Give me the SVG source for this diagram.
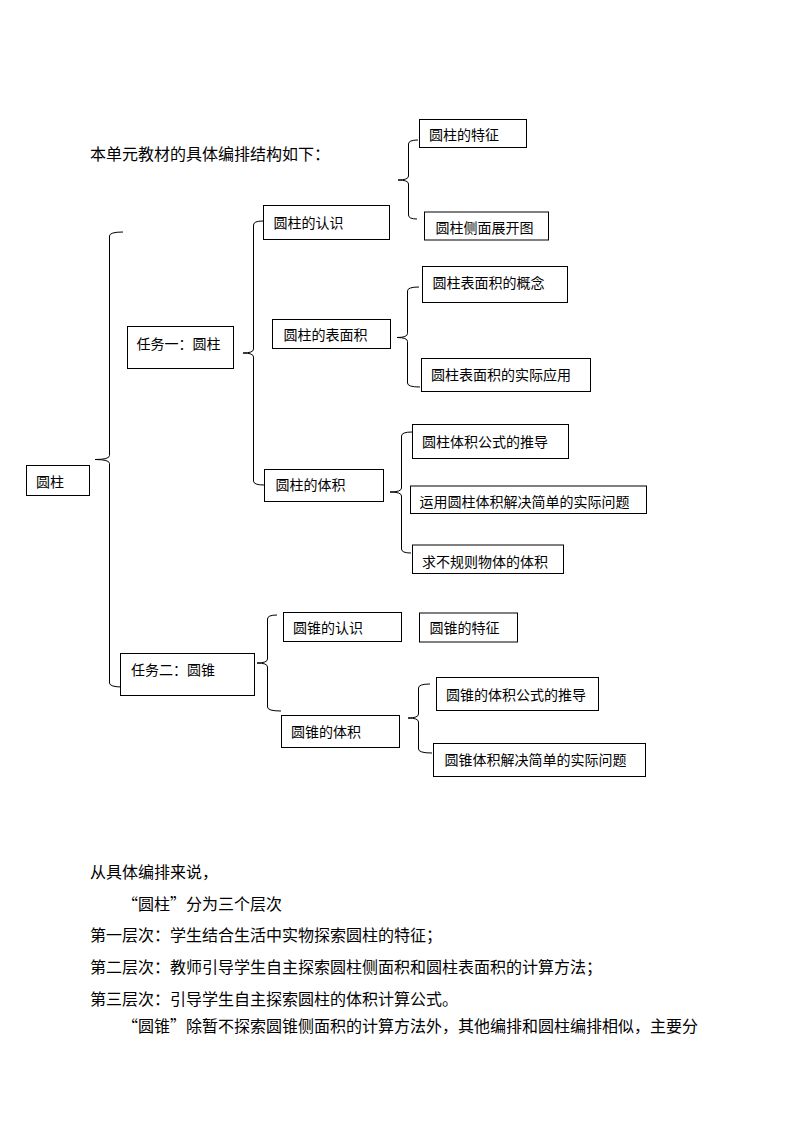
<svg xmlns="http://www.w3.org/2000/svg" width="794" height="1123" viewBox="0 0 794 1123">
<style>
  text { font-family: "Noto Sans CJK SC", "Noto Sans", sans-serif; fill: #000; }
  .n rect { fill: #fff; stroke: #000; stroke-width: 1; }
  .n text { font-size: 14px; }
  .body { font-size: 16px; }
  #connectors path { fill: none; stroke: #000; stroke-width: 1; }
</style>
<rect x="0" y="0" width="794" height="1123" fill="#fff"/>

<text class="body" x="90" y="159.5">本单元教材的具体编排结构如下：</text>

<g id="connectors">
  <path d="M123,232 Q109.5,232 109.5,236 L109.5,455.5 Q109.5,459.5 95,459.5 Q109.5,459.5 109.5,463.5 L109.5,683 Q109.5,687 123,687"/>
  <path d="M263,221 Q253.5,221 253.5,225 L253.5,349 Q253.5,353 243,353 Q253.5,353 253.5,357 L253.5,481 Q253.5,485 264,485"/>
  <path d="M418,140 Q408.5,140 408.5,144 L408.5,176 Q408.5,180 398,180 Q408.5,180 408.5,184 L408.5,215 Q408.5,219 417,219"/>
  <path d="M419,287 Q407.5,287 407.5,291 L407.5,333.5 Q407.5,337.5 397,337.5 Q407.5,337.5 407.5,341.5 L407.5,383 Q407.5,387 420,387"/>
  <path d="M412,432 Q401.5,432 401.5,436 L401.5,488 Q401.5,492 390,492 Q401.5,492 401.5,496 L401.5,549 Q401.5,553 411,553"/>
  <path d="M277,615 Q267.5,615 267.5,619 L267.5,659 Q267.5,663 257,663 Q267.5,663 267.5,667 L267.5,707 Q267.5,711 281,711"/>
  <path d="M430,684 Q418.5,684 418.5,688 L418.5,714 Q418.5,718 408,718 Q418.5,718 418.5,722 L418.5,749 Q418.5,753 432,753"/>
</g>

<g id="root" class="n"><rect x="26.5" y="465.5" width="63" height="30"/><text x="36" y="487">圆柱</text></g>
<g id="task1" class="n"><rect x="127.5" y="326.5" width="106" height="42"/><text x="136.5" y="348.6">任务一：圆柱</text></g>
<g id="task2" class="n"><rect x="120.5" y="653.5" width="134" height="42"/><text x="131" y="675.3">任务二：圆锥</text></g>

<g id="yz-renshi" class="n"><rect x="263.5" y="205.5" width="126" height="34"/><text x="273.5" y="227.6">圆柱的认识</text></g>
<g id="yz-tezheng" class="n"><rect x="419.5" y="119.5" width="107" height="28"/><text x="429" y="140">圆柱的特征</text></g>
<g id="yz-cemian" class="n"><rect x="424.5" y="212" width="124" height="28"/><text x="435.5" y="232.6">圆柱侧面展开图</text></g>

<g id="yz-biaomianji" class="n"><rect x="272.5" y="319.5" width="118" height="29"/><text x="283.5" y="340.3">圆柱的表面积</text></g>
<g id="yz-gainian" class="n"><rect x="422.5" y="266.5" width="145" height="36"/><text x="432.5" y="288">圆柱表面积的概念</text></g>
<g id="yz-yingyong" class="n"><rect x="421.5" y="358.5" width="169" height="33"/><text x="431" y="380.3">圆柱表面积的实际应用</text></g>

<g id="yz-tiji" class="n"><rect x="264.5" y="469.5" width="119" height="32"/><text x="275.5" y="490.3">圆柱的体积</text></g>
<g id="yz-tuidao" class="n"><rect x="412.5" y="424.5" width="156" height="34"/><text x="422" y="447">圆柱体积公式的推导</text></g>
<g id="yz-yunyong" class="n"><rect x="410.5" y="486" width="236" height="27.5"/><text x="419.5" y="507">运用圆柱体积解决简单的实际问题</text></g>
<g id="yz-buguize" class="n"><rect x="412.5" y="545" width="151" height="28.5"/><text x="422" y="567">求不规则物体的体积</text></g>

<g id="yzhui-renshi" class="n"><rect x="283.5" y="612.5" width="118" height="29"/><text x="293" y="632.6">圆锥的认识</text></g>
<g id="yzhui-tezheng" class="n"><rect x="419.5" y="613" width="98" height="29"/><text x="429.5" y="632.6">圆锥的特征</text></g>
<g id="yzhui-tiji" class="n"><rect x="281.5" y="715.5" width="118" height="32"/><text x="291" y="737">圆锥的体积</text></g>
<g id="yzhui-tuidao" class="n"><rect x="436.5" y="677.5" width="162" height="33"/><text x="446" y="699.6">圆锥的体积公式的推导</text></g>
<g id="yzhui-jiejue" class="n"><rect x="433.5" y="743.5" width="212" height="33"/><text x="444.5" y="765.3">圆锥体积解决简单的实际问题</text></g>

<text class="body" x="90" y="877.7">从具体编排来说，</text>
<text class="body" x="122" y="910.3">“圆柱”分为三个层次</text>
<text class="body" x="90" y="941">第一层次：学生结合生活中实物探索圆柱的特征；</text>
<text class="body" x="90" y="972.7">第二层次：教师引导学生自主探索圆柱侧面积和圆柱表面积的计算方法；</text>
<text class="body" x="90" y="1005">第三层次：引导学生自主探索圆柱的体积计算公式。</text>
<text class="body" x="122" y="1031.7">“圆锥”除暂不探索圆锥侧面积的计算方法外，其他编排和圆柱编排相似，主要分</text>
</svg>
